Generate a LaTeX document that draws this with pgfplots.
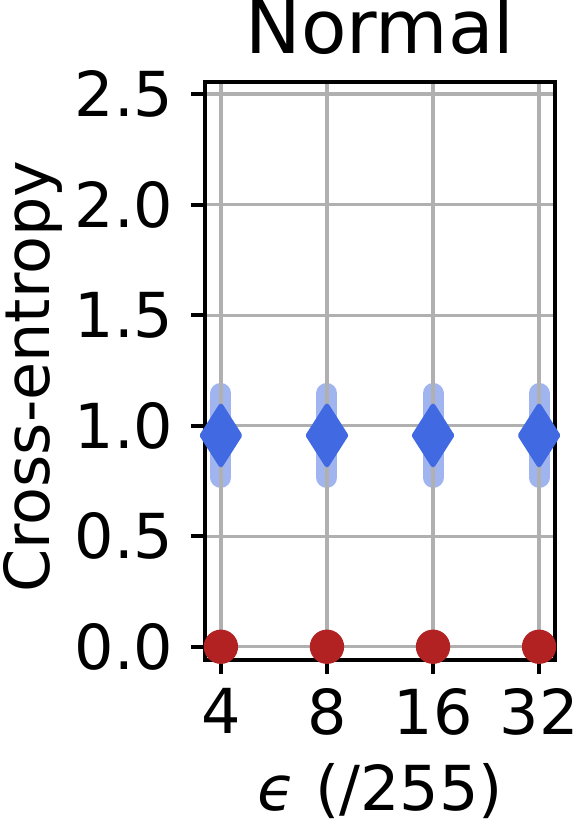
\documentclass[border=0pt]{standalone}
\usepackage{fontspec}
\setmainfont{DejaVu Sans}
\usepackage{pgfplots}
\pgfplotsset{compat=1.18}
\definecolor{royal}{HTML}{4169E1}
\definecolor{fire}{HTML}{B22222}
\definecolor{gridgray}{HTML}{B0B0B0}
\begin{document}
\begin{tikzpicture}
\useasboundingbox (0,0) rectangle (173.1pt,247.5pt);
\begin{axis}[
  at={(61.5pt,49.5pt)}, anchor=south west,
  scale only axis, width=105pt, height=173.4pt,
  xmin=-0.15, xmax=3.15, ymin=-0.06, ymax=2.555,
  xtick={0,1,2,3}, xticklabels={4,8,16,32},
  ytick={0,0.5,1,1.5,2,2.5},
  /pgf/number format/assume math mode=true,
  ticklabel style={font=\fontsize{18.6}{22}\selectfont},
  xticklabel style={anchor=north, inner sep=0pt, yshift=-4.2pt},
  yticklabel style={anchor=east, inner sep=0pt, xshift=-5.1pt,
    /pgf/number format/.cd, fixed, fixed zerofill, precision=1},
  xtick pos=lower, ytick pos=left,
  tick align=outside, major tick length=4.2pt,
  tick style={black, line width=1.2pt},
  axis line style={line width=1.2pt},
  grid=major, major grid style={gridgray, line width=1pt},
  axis on top, clip=false,
  title={Normal},
  title style={font=\fontsize{22.3}{26}\selectfont, inner sep=0pt,
    at={(axis description cs:0.5,1.0139)}, anchor=base},
  ylabel={Cross-entropy}, xlabel={{\itshape ϵ} (/255)},
  label style={font=\fontsize{18.6}{22}\selectfont, inner sep=0pt},
  ylabel style={at={(axis description cs:-0.443,0.49)}, anchor=base},
  xlabel style={at={(axis description cs:0.5,-0.26)}, anchor=base},
]
% adversarial-free loss, std shown as bars
\addplot[draw=none, mark=none, forget plot,
  error bars/.cd, y dir=both, y explicit, error mark=none,
  error bar style={line width=6.3pt, royal, opacity=0.5, line cap=round}]
  coordinates {(0,0.956) +- (0,0.19) (1,0.956) +- (0,0.19) (2,0.956) +- (0,0.19) (3,0.956) +- (0,0.19)};
\addplot[only marks, mark=diamond*, mark size=8.8pt, royal,
  mark options={line width=1.5pt, line join=round, xscale=0.85}]
  coordinates {(0,0.956) (1,0.956) (2,0.956) (3,0.956)};
\addplot[only marks, mark=*, mark size=4.95pt, fire, mark options={draw=none}]
  coordinates {(0,0) (1,0) (2,0) (3,0)};
\end{axis}
\end{tikzpicture}
\end{document}
